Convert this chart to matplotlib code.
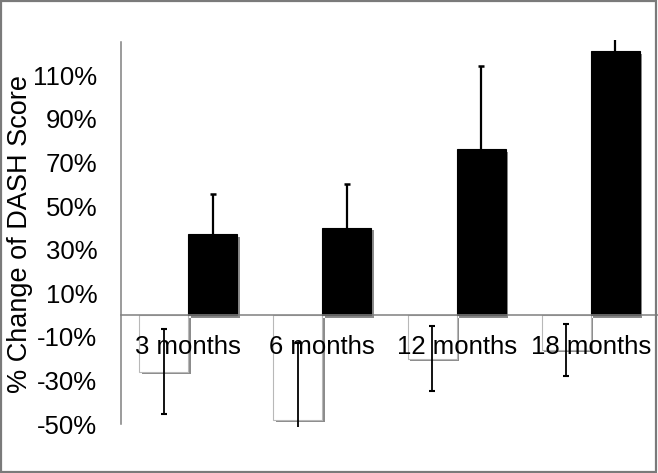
import matplotlib.pyplot as plt
import matplotlib.patheffects as pe
import numpy as np

# dados
categorias = ["3 months", "6 months", "12 months", "18 months"]
valores_neg = [-26, -48, -20, -16]
erros_neg = [19.5, 35, 15, 12]
valores_pos = [37, 40, 76, 121]
erros_pos = [18.5, 20, 38, 6]
ticks_y = [-50, -30, -10, 10, 30, 50, 70, 90, 110]

plt.rcParams["font.family"] = ["Liberation Sans", "DejaVu Sans"]

fig = plt.figure(figsize=(6.58, 4.73), dpi=100)
ax = fig.add_axes([0.1839, 0.0966, 0.816, 0.8182])

# posição do eixo x antes dos rótulos (senão reinicia os ticks)
ax.spines["top"].set_visible(False)
ax.spines["right"].set_visible(False)
ax.spines["bottom"].set_position(("data", 0))
ax.spines["bottom"].set_color("#808080")
ax.spines["bottom"].set_linewidth(1.1)
ax.spines["left"].set_color("#808080")
ax.spines["left"].set_linewidth(1.1)

x = np.arange(len(categorias))
largura = 0.365

sombra = [pe.SimplePatchShadow(offset=(1.8, -1.8), shadow_rgbFace="black", alpha=0.45), pe.Normal()]

barras_neg = ax.bar(x - largura / 2, valores_neg, largura, color="white",
                    edgecolor="#b8b8b8", linewidth=0.8)
barras_pos = ax.bar(x + largura / 2, valores_pos, largura, color="black",
                    edgecolor="black", linewidth=0.8)
for b in list(barras_neg) + list(barras_pos):
    b.set_path_effects(sombra)

ax.errorbar(x - largura / 2, valores_neg, yerr=erros_neg, fmt="none",
            ecolor="black", elinewidth=1.3, capsize=2.5, capthick=1.5, zorder=3)
ax.errorbar(x + largura / 2, valores_pos, yerr=erros_pos, fmt="none",
            ecolor="black", elinewidth=1.6, capsize=2.5, capthick=1.8, zorder=3)

ax.set_xlim(-0.5, 3.5)
ax.set_ylim(-51.5, 126)
ax.spines["left"].set_bounds(-50, 125)

ax.set_yticks(ticks_y)
ax.set_yticklabels([f"{t}%" for t in ticks_y])
ax.set_xticks(x)
ax.set_xticklabels(categorias)

ax.tick_params(axis="y", length=0, pad=17, labelsize=18.5)
ax.tick_params(axis="x", length=0, pad=14.5, labelsize=18.5)

ax.set_ylabel("% Change of DASH Score", fontsize=19.5)
ax.yaxis.set_label_coords(-0.163, 0.5)

moldura = plt.Rectangle((0.001, 0.002), 0.996, 0.996, transform=fig.transFigure,
                        fill=False, edgecolor="#7a7a7a", linewidth=1.6)
fig.patches.append(moldura)

fig.savefig("out.png", dpi=100)
